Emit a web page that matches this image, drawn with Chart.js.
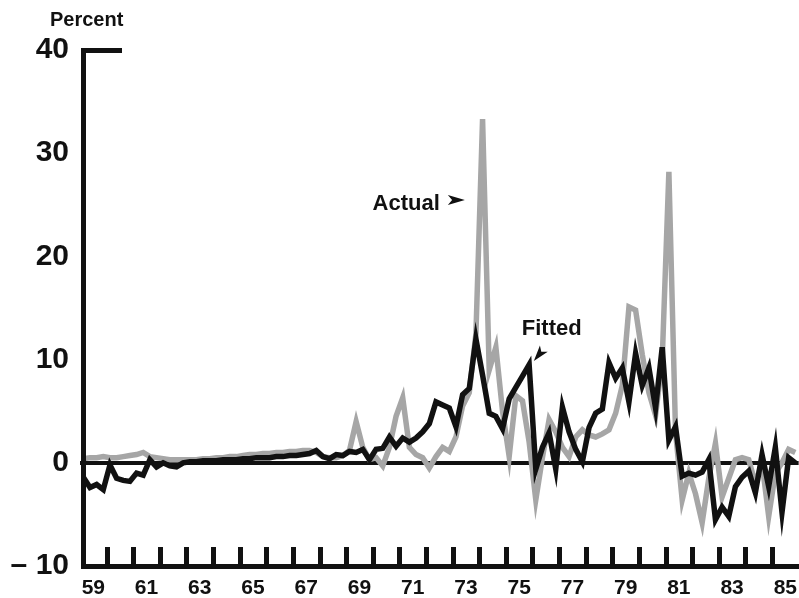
<!DOCTYPE html>
<html>
<head>
<meta charset="utf-8">
<script src="https://cdn.jsdelivr.net/npm/chart.js@4.4.1/dist/chart.umd.min.js"></script>
<style>
  html, body { margin: 0; padding: 0; background: #fff; }
  #wrap { width: 799px; height: 598px; position: relative; }
</style>
</head>
<body>
<div id="wrap"><canvas id="chart"></canvas></div>
<script>
// quarterly data, 1959 Q1 .. 1985 Q4 (percent)
const startYear = 59;
const endYear = 86;
const yearLabels = [59, 61, 63, 65, 67, 69, 71, 73, 75, 77, 79, 81, 83, 85];
const yTicks = [-10, 0, 10, 20, 30, 40];

const actual = [
  0.4, 0.5, 0.5, 0.6, 0.5, 0.5, 0.6, 0.7, 0.8, 1.0, 0.6, 0.5,
  0.4, 0.3, 0.3, 0.3, 0.3, 0.3, 0.4, 0.4, 0.5, 0.5, 0.6, 0.6,
  0.7, 0.8, 0.8, 0.9, 0.9, 1.0, 1.0, 1.1, 1.1, 1.2, 1.2, 1.0,
  0.6, 0.5, 0.5, 0.7, 1.2, 4.0, 1.5, 0.3, 0.5, -0.3, 1.5, 4.5,
  6.3, 1.5, 0.8, 0.5, -0.5, 0.6, 1.5, 1.1, 2.5, 5.5, 6.8, 12.5,
  33.3, 9.0, 11.2, 5.0, 0.6, 6.5, 6.0, 2.0, -3.6, 0.5, 4.2, 3.0,
  1.5, 0.6, 2.5, 3.2, 2.7, 2.5, 2.8, 3.2, 4.8, 7.5, 15.1, 14.8,
  10.5, 6.8, 4.6, 10.0, 28.2, 3.0, -3.6, -1.0, -3.0, -5.8, -1.5, 1.9,
  -3.3, -1.5, 0.3, 0.5, 0.3, -2.0, 0.0, -5.2, -1.0, 0.0, 1.3, 1.0
];

const fitted = [
  -1.4, -2.4, -2.1, -2.6, -0.2, -1.5, -1.7, -1.8, -1.0, -1.2, 0.3, -0.4,
  0.0, -0.3, -0.4, 0.0, 0.1, 0.1, 0.2, 0.2, 0.2, 0.3, 0.3, 0.3,
  0.4, 0.4, 0.5, 0.5, 0.5, 0.6, 0.6, 0.7, 0.7, 0.8, 0.9, 1.2,
  0.6, 0.4, 0.8, 0.7, 1.1, 1.0, 1.3, 0.3, 1.3, 1.4, 2.5, 1.6,
  2.4, 2.0, 2.4, 3.0, 3.8, 5.9, 5.6, 5.3, 3.5, 6.6, 7.2, 12.0,
  8.5, 4.8, 4.5, 3.3, 6.2, 7.3, 8.4, 9.5, -0.6, 1.5, 2.9, -0.6,
  5.4, 3.0, 1.3, 0.1, 3.4, 4.8, 5.2, 9.7, 8.2, 9.2, 5.9, 10.6,
  7.5, 9.2, 5.3, 11.2, 2.2, 3.5, -1.3, -1.0, -1.2, -0.9, 0.3, -5.5,
  -4.3, -5.2, -2.3, -1.4, -0.8, -2.9, 0.8, -2.3, 1.5, -4.8, 0.5, 0.0
];

const FONT = "'Liberation Sans', Arial, Helvetica, sans-serif";
const INK = "#111";
const GRAY = "#a6a6a6";

// each quarter sits in the middle of its slot
function toPoints(vals) {
  return vals.map((v, i) => ({ x: startYear + (i + 0.5) / 4, y: v }));
}

function arrow(ctx, tipX, tipY, angle, len, half) {
  const c = Math.cos(angle), s = Math.sin(angle);
  const bx = tipX - c * len, by = tipY - s * len;
  const nx = tipX - c * len * 0.75, ny = tipY - s * len * 0.75;
  ctx.beginPath();
  ctx.moveTo(tipX, tipY);
  ctx.lineTo(bx - s * half, by + c * half);
  ctx.lineTo(nx, ny);
  ctx.lineTo(bx + s * half, by - c * half);
  ctx.closePath();
  ctx.fill();
}

// axis frame: left rule, short top stub, bottom rule with year ticks, notes
const frame = {
  id: "frame",
  afterDraw(chart) {
    const { ctx, chartArea } = chart;
    const x = chart.scales.x, y = chart.scales.y;
    const top = Math.round(y.getPixelForValue(40));
    const bottom = Math.round(y.getPixelForValue(-10));
    const left = Math.round(chartArea.left);

    ctx.save();
    ctx.fillStyle = INK;

    // left rule, top stub, bottom rule
    ctx.fillRect(left + 1, top - 2, 5, bottom - top + 5);
    ctx.fillRect(left + 1, top - 2, 41, 5);
    ctx.fillRect(left + 1, bottom - 2, chart.width - left, 5);

    // one tick per year, standing on the bottom rule
    for (let yr = startYear + 1; yr < endYear; yr++) {
      const px = Math.round(x.getPixelForValue(yr));
      ctx.fillRect(px - 2, bottom - 19, 5, 19);
    }

    ctx.textBaseline = "alphabetic";
    ctx.font = "bold 20px " + FONT;
    ctx.textAlign = "left";
    ctx.fillText("Percent", left - 30, 26);

    ctx.font = "bold 22px " + FONT;
    const ax = x.getPixelForValue(72.52), ay = y.getPixelForValue(24.5);
    ctx.textAlign = "right";
    ctx.fillText("Actual", ax, ay);
    arrow(ctx, ax + 25, ay - 10, 0, 17, 5);

    const fx = x.getPixelForValue(75.6), fy = y.getPixelForValue(12.38);
    ctx.textAlign = "left";
    ctx.fillText("Fitted", fx, fy);
    arrow(ctx, fx + 12, fy + 26, Math.atan2(15, -12), 16, 5);
    ctx.restore();
  }
};

new Chart(document.getElementById("chart"), {
  type: "line",
  data: {
    datasets: [
      {
        label: "Fitted",
        data: toPoints(fitted),
        borderColor: INK,
        borderWidth: 5.5,
        borderJoinStyle: "miter",
        pointRadius: 0,
        tension: 0
      },
      {
        label: "Actual",
        data: toPoints(actual),
        borderColor: GRAY,
        borderWidth: 5.5,
        borderJoinStyle: "miter",
        pointRadius: 0,
        tension: 0
      }
    ]
  },
  options: {
    responsive: true,
    maintainAspectRatio: false,
    animation: false,
    layout: { padding: { top: 50, right: 0, left: 0, bottom: 0 } },
    plugins: {
      legend: { display: false },
      tooltip: { enabled: false }
    },
    scales: {
      x: {
        type: "linear",
        min: startYear,
        max: endYear,
        afterBuildTicks: scale => {
          scale.ticks = yearLabels.map(v => ({ value: v + 0.5 }));
        },
        afterFit: scale => { scale.height = 32; },
        grid: { display: false },
        border: { display: false },
        ticks: {
          autoSkip: false,
          maxRotation: 0,
          padding: 2,
          color: INK,
          font: { family: FONT, size: 21, weight: "bold" },
          callback: v => String(Math.floor(v))
        }
      },
      y: {
        min: -10,
        max: 40,
        afterBuildTicks: scale => {
          scale.ticks = yTicks.map(v => ({ value: v }));
        },
        afterFit: scale => { scale.width = 80; },
        border: { display: false },
        grid: {
          drawTicks: false,
          lineWidth: 4,
          color: c => (c.tick && c.tick.value === 0 ? INK : "rgba(0,0,0,0)")
        },
        ticks: {
          padding: 11,
          color: INK,
          font: { family: FONT, size: 30, weight: "bold" },
          callback: v => (v === -10 ? "\u2013 10" : String(v))
        }
      }
    }
  },
  plugins: [frame]
});
</script>
</body>
</html>
